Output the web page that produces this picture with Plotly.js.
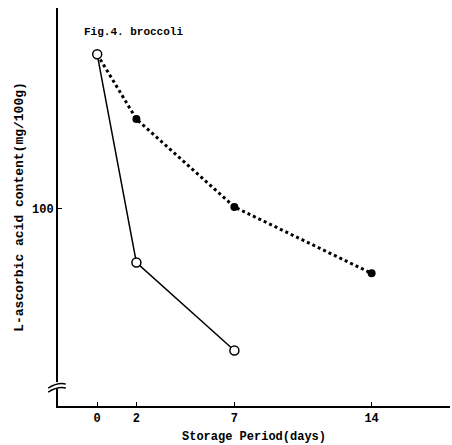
<!DOCTYPE html>
<html><head><meta charset="utf-8">
<script src="https://cdn.plot.ly/plotly-3.0.1.min.js"></script>
<style>html,body{margin:0;padding:0;background:#fff}</style>
</head><body><div id="chart" style="width:452px;height:445px"></div>
<script>
// Data
var daysOpen = [0, 2, 7];
var valuesOpen = [150, 82.5, 54];
var daysFilled = [0, 2, 7, 14];
var valuesFilled = [150, 129, 100.5, 79];
var xTickVals = [0, 2, 7, 14];
var xTickText = ['0', '2', '7', '14'];
var yTickVals = [100];
var yTickText = ['100'];

var fontFam = '"Liberation Mono", "DejaVu Sans Mono", monospace';

var traces = [
  {x: daysFilled, y: valuesFilled, mode: 'lines+markers', type: 'scatter',
   line: {color: '#000', width: 3, dash: 'dot'},
   marker: {symbol: 'circle', size: 8, color: '#000'}, showlegend: false},
  {x: daysOpen, y: valuesOpen, mode: 'lines+markers', type: 'scatter',
   line: {color: '#000', width: 1.5},
   marker: {symbol: 'circle', size: 9, color: '#fff', line: {width: 1.5, color: '#000'}}, showlegend: false}
];

var layout = {
  width: 452, height: 445,
  margin: {l: 58, r: 2, t: 8, b: 39},
  paper_bgcolor: '#fff', plot_bgcolor: '#fff',
  font: {family: fontFam, color: '#000'},
  xaxis: {range: [-2, 18], tickvals: xTickVals, ticktext: xTickText,
    showgrid: false, zeroline: false, showline: true, linecolor: '#000', linewidth: 2,
    ticks: 'inside', ticklen: 4, tickcolor: '#000', tickfont: {size: 12, family: fontFam, weight: 'bold'},
    title: {text: 'Storage Period(days)', font: {size: 12, family: fontFam, weight: 'bold'}, standoff: 6}},
  yaxis: {range: [36, 165], tickvals: yTickVals, ticktext: yTickText,
    showgrid: false, zeroline: false, showline: true, linecolor: '#000', linewidth: 2,
    ticks: 'inside', ticklen: 4, tickcolor: '#000', tickfont: {size: 12, family: fontFam, weight: 'bold'},
    title: {text: 'L-ascorbic acid content(mg/100g)', font: {size: 13, family: fontFam, weight: 'bold'}, standoff: 5}},
  annotations: [
    {text: 'Fig.4. broccoli', xref: 'paper', yref: 'paper', x: 0.06, y: 0.94,
     xanchor: 'left', yanchor: 'middle', showarrow: false, font: {size: 11, family: fontFam, weight: 'bold'}}
  ],
  shapes: [
    {type: 'rect', xref: 'paper', yref: 'paper', x0: -0.02, x1: 0.02, y0: 0.043, y1: 0.06,
     fillcolor: '#fff', line: {width: 0}, layer: 'above'},
    {type: 'path', xref: 'paper', yref: 'paper', path: 'M -0.025 0.045 Q 0 0.06 0.02 0.055',
     line: {color: '#000', width: 1.5}},
    {type: 'path', xref: 'paper', yref: 'paper', path: 'M -0.025 0.035 Q 0 0.05 0.02 0.045',
     line: {color: '#000', width: 1.5}}
  ]
};
Plotly.newPlot('chart', traces, layout, {displayModeBar: false, staticPlot: true});
</script></body></html>
